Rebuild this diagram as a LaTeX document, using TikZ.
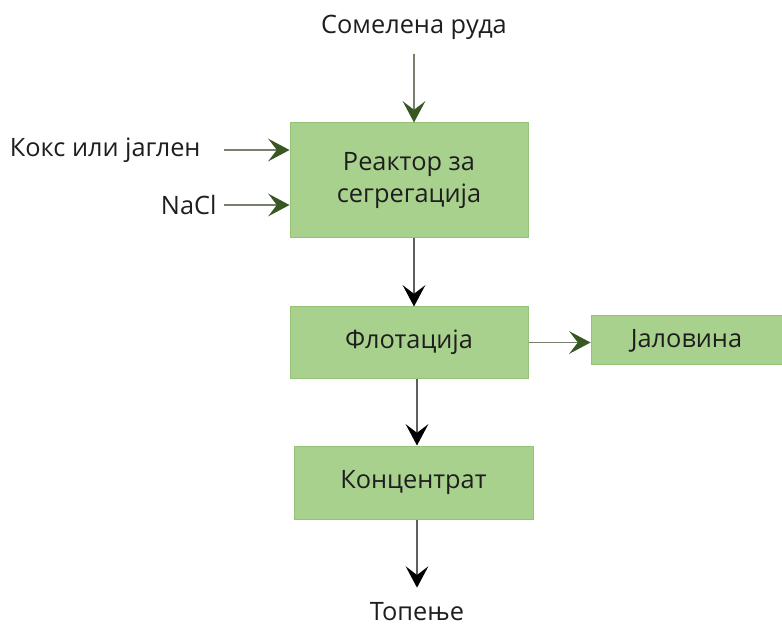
\documentclass[tikz,border=0pt]{standalone}
\usepackage{fontspec}
\setmainfont{Open Sans}
\usetikzlibrary{arrows.meta}

\definecolor{boxfill}{RGB}{169,209,142}
\definecolor{boxline}{RGB}{150,194,120}
\definecolor{tipgreen}{RGB}{56,87,35}
\definecolor{shaftgreen}{RGB}{118,128,108}
\definecolor{shaftgray}{RGB}{95,95,95}
\definecolor{inktext}{RGB}{30,30,30}

\tikzset{every picture/.style={line width=0.75pt}}
\tikzset{
  stagebox/.style={draw=boxline, fill=boxfill, inner sep=0pt, align=center,
    font=\fontsize{19}{24.5}\selectfont, text=inktext},
  streamlabel/.style={inner sep=0pt, font=\fontsize{19}{24.5}\selectfont, text=inktext},
  greenflow/.style={draw=shaftgreen, line width=1pt,
    -{Stealth[length=16pt,width=17pt,inset=6.5pt,color=tipgreen]}},
  blackflow/.style={draw=shaftgray, line width=1pt,
    -{Stealth[length=16pt,width=17pt,inset=6.5pt,color=black]}}
}

\begin{document}
\begin{tikzpicture}[x=0.75pt,y=0.75pt,yscale=-1,xscale=1]
	\useasboundingbox (0,0) rectangle (782,627);
	
	% Stage boxes
	\node [stagebox, minimum width=178.5pt, minimum height=86.25pt] (reactor) at (409,180.5) {Реактор за\\сегрегација};
	\node [stagebox, minimum width=178.5pt, minimum height=53.25pt] (flotacija) at (409,342.5) {Флотација};
	\node [stagebox, minimum width=143.25pt, minimum height=36.75pt] (jalovina) at (686.5,340.5) {Јаловина};
	\node [stagebox, minimum width=179.25pt, minimum height=54.75pt] (koncentrat) at (413.5,482.5) {Концентрат};
	
	% Text Node
	\node [streamlabel] (ruda) at (414,27) {Сомелена руда};
	% Text Node
	\node [streamlabel, anchor=east] (koks) at (201,150) {Кокс или јаглен};
	% Text Node
	\node [streamlabel, anchor=east] (nacl) at (217,205) {NaCl};
	% Text Node
	\node [streamlabel] (topenje) at (417,612) {Топење};
	
	% Feed arrows
	\draw [greenflow, shorten <=11pt] (ruda.south) -- (ruda.south |- reactor.north);
	\draw [greenflow, shorten <=17pt] (koks.east) -- (koks.east -| reactor.west);
	\draw [greenflow, shorten <=5pt] (nacl.east) -- (nacl.east -| reactor.west);
	% Product arrows
	\draw [blackflow] (ruda.south |- reactor.south) -- (ruda.south |- flotacija.north);
	\draw [greenflow] (flotacija.east) -- (flotacija.east -| jalovina.west);
	\draw [blackflow] (topenje.north |- flotacija.south) -- (topenje.north |- koncentrat.north);
	\draw [blackflow, shorten >=11pt] (topenje.north |- koncentrat.south) -- (topenje.north);
	
\end{tikzpicture}
\end{document}
